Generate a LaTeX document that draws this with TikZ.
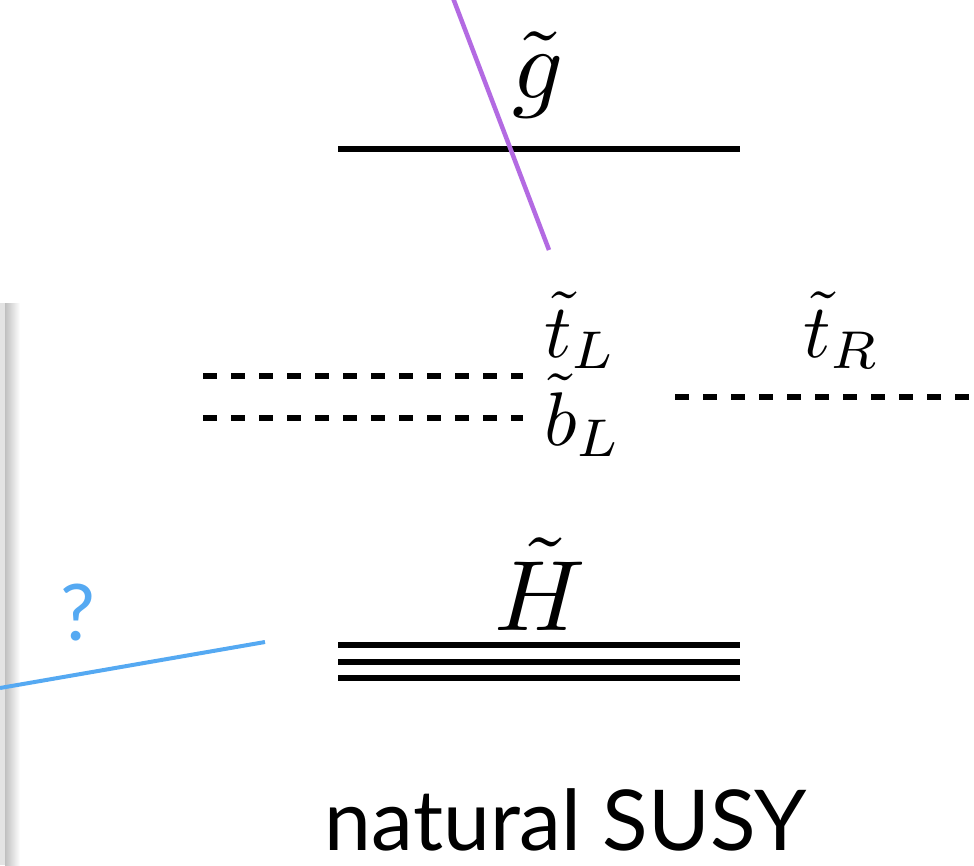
\documentclass[tikz,border=0pt]{standalone}
\usepackage{fontspec}
\setsansfont{Lato}
\usepackage{graphicx}
\usepackage{tikz}
\usetikzlibrary{positioning}
\definecolor{gluinoline}{HTML}{B36AE2}
\definecolor{qblue}{HTML}{55A9F2}
\newcommand{\largesym}[1]{\scalebox{10}{$#1$}}
\newcommand{\medsym}[1]{\scalebox{7.6}{$#1$}}

\begin{document}
\begin{tikzpicture}[x=1pt, y=-1pt,
    level/.style={line width=5.5pt},
    dashlevel/.style={line width=5.5pt, dash pattern=on 14pt off 14pt},
    label/.style={inner sep=0pt}]
    \useasboundingbox (0,0) rectangle (974,865);

    % slide edge with shadow (left)
    \fill[gray!22] (0,303) rectangle (5,865);
    \shade[left color=gray!50, right color=white] (5,303) rectangle (20,865);

    % gluino
    \draw[level] (338,149) -- (740,149);
    \node[label, anchor=base] (gluino) at (538,98) {\largesym{\tilde g}};

    % stops and sbottom
    \draw[dashlevel] (203,376) -- (523,376);
    \draw[dashlevel] (203,418) -- (523,418);
    \draw[dashlevel] (675,397) -- (974,397);
    \node[label, anchor=base west] (stopL) at (544,357) {\medsym{\tilde t_L}};
    \node[label, anchor=base west] (sbotL) at (544,445) {\medsym{\tilde b_L}};
    \node[label, anchor=base west] (stopR) at (803,357) {\medsym{\tilde t_R}};

    % higgsinos
    \foreach \y in {645,662,678} {
        \draw[level] (338,\y) -- (740,\y);
    }
    \node[label, anchor=base] (higgsino) at (540,630) {\largesym{\tilde H}};

    % purple cut through the gluino
    \draw[gluinoline, line width=4.5pt] (453,-2) -- (549,250);

    % blue line and question mark
    \draw[qblue, line width=4pt] (0,688) -- (265,642);
    \node[label, anchor=base, text=qblue,
          font=\sffamily\fontsize{78}{84}\selectfont] (qmark) at (78,640) {?};

    % title
    \node[label, anchor=base,
          font=\sffamily\fontsize{84}{92}\selectfont] (title) at (566,850) {natural SUSY};
\end{tikzpicture}
\end{document}
